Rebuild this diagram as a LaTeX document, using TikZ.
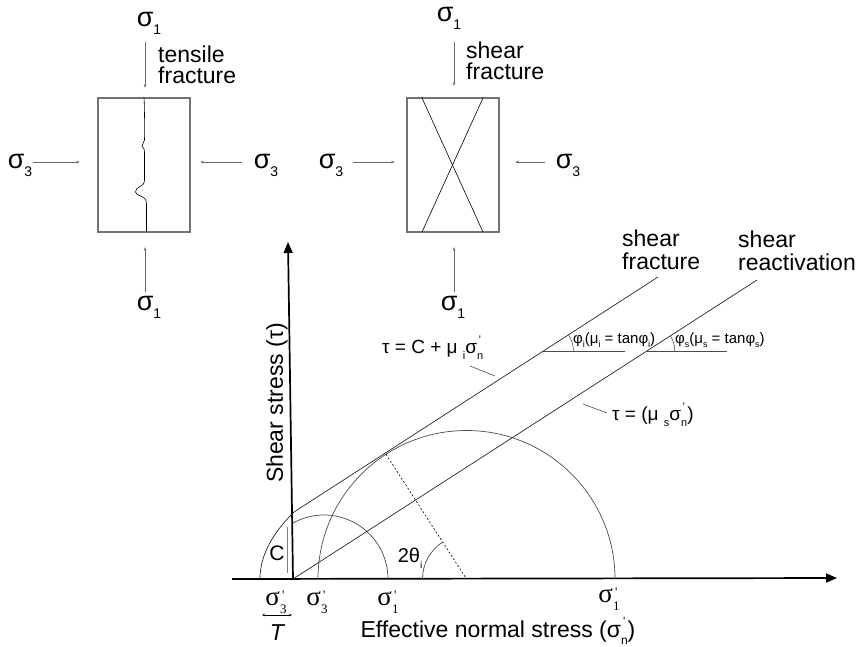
\documentclass[tikz,border=0pt]{standalone}
\usepackage{fontspec}
\setmainfont{Liberation Sans}
\newfontfamily\tms{Liberation Serif}
\usetikzlibrary{arrows.meta,calc}
\newcommand\lowr[2]{\raisebox{-0.3em}{\fontsize{#1}{#1}\selectfont #2}}
\newcommand\prmr[3]{\rlap{\smash{\raisebox{#3}{\fontsize{#1}{#1}\selectfont\,\textquotesingle}}}\smash{\raisebox{-0.3em}{\fontsize{#1}{#1}\selectfont #2}}}
\newcommand\prm[2]{\prmr{#1}{#2}{0.55em}}
\begin{document}
\begin{tikzpicture}[x=1pt,y=-1pt,
  lbl/.style={inner sep=0pt, font=\fontsize{23}{21}\selectfont},
  sg/.style={inner sep=0pt, font=\fontsize{27}{27}\selectfont},
  tm/.style={inner sep=0pt, font=\tms\fontsize{27}{27}\selectfont},
  eq/.style={inner sep=0pt, font=\fontsize{19}{19}\selectfont},
  eqs/.style={inner sep=0pt, font=\fontsize{15}{15}\selectfont},
  sample/.style={draw=black!55, line width=1.1pt, inner sep=0pt, minimum width=92pt, minimum height=134pt},
  load/.style={draw=black!60, line width=0.6pt, -{Stealth[length=4pt,width=2.5pt]}},
  axis/.style={line width=1.7pt, -{Triangle[length=11pt,width=9pt]}},
  env/.style={line width=0.7pt, draw=black!85},
  circ/.style={line width=0.7pt, draw=black!70},
  lead/.style={line width=0.6pt, draw=black!70},
]
\useasboundingbox (0,0) rectangle (861,646);

% ---------- sample 1: tensile fracture ----------
\node[sample] (b1) at (144,165) {};
\draw[line width=0.6pt] (b1.north) .. controls (145,115) and (144,125) .. (144.5,140)
  .. controls (144.5,143) and (141.5,144) .. (142,146)
  .. controls (142.5,148) and (144.5,148) .. (144.5,152) -- (144.5,180)
  .. controls (144.5,188) and (135,186) .. (135.5,192)
  .. controls (136,197) and (146.5,194) .. (146.5,204) -- (146.5,232);
\node[sg] (s1a) at (149,23) {σ\lowr{14}{1}};
\coordinate (t1a) at (145,42); \coordinate (t1b) at (145,88);
\draw[load] (t1a) -- (t1b);
\node[lbl, anchor=west, align=left] (tf) at (158,65) {tensile\\fracture};
\coordinate (u1a) at (145,292); \coordinate (u1b) at (145,247);
\draw[load] (u1a) -- (u1b);
\node[sg] (s1b) at (149,307) {σ\lowr{14}{1}};
\node[sg] (s3a) at (20,165) {σ\lowr{14}{3}};
\coordinate (l1a) at (33,162); \coordinate (l1b) at (80,162);
\draw[load] (l1a) -- (l1b);
\coordinate (r1a) at (242,162); \coordinate (r1b) at (200,162);
\draw[load] (r1a) -- (r1b);
\node[sg] (s3b) at (266,165) {σ\lowr{14}{3}};

% ---------- sample 2: shear fracture ----------
\node[sample] (b2) at (453,165) {};
\draw[line width=0.6pt] (422,98) -- (483,232);
\draw[line width=0.6pt] (483,98) -- (422,232);
\node[sg] (s1c) at (449,18) {σ\lowr{14}{1}};
\coordinate (t2a) at (454,42); \coordinate (t2b) at (454,86);
\draw[load] (t2a) -- (t2b);
\node[lbl, anchor=west, align=left] (sf) at (466,61) {shear\\fracture};
\coordinate (u2a) at (454,292); \coordinate (u2b) at (454,247);
\draw[load] (u2a) -- (u2b);
\node[sg] (s1d) at (453,307) {σ\lowr{14}{1}};
\node[sg] (s3c) at (331,165) {σ\lowr{14}{3}};
\coordinate (l2a) at (353,162); \coordinate (l2b) at (395,162);
\draw[load] (l2a) -- (l2b);
\coordinate (r2a) at (545,162); \coordinate (r2b) at (515,162);
\draw[load] (r2a) -- (r2b);
\node[sg] (s3d) at (568,165) {σ\lowr{14}{3}};

% ---------- Mohr diagram ----------
\coordinate (O) at (293,579);
\coordinate (xstart) at (232,579);
\coordinate (xend) at (837,578);
\coordinate (yend) at (288,242);
\draw[axis] (xstart) -- (xend);
\draw[axis] (O) -- (yend);

% circles
\coordinate (c1) at (324,579);
\draw[circ] ($(c1)+(241:64)$) arc[start angle=241, end angle=360, radius=64];
\coordinate (c2) at (466.5,579);
\draw[circ] ($(c2)+(180:148.5)$) arc[start angle=180, end angle=360, radius=148.5];
\coordinate (tp) at ($(c2)+(237.15:148.5)$);
\draw[line width=0.6pt, dash pattern=on 2pt off 2pt] (tp) -- (c2);
\draw[circ] ($(c2)+(180:44)$) arc[start angle=180, end angle=237.15, radius=44];
\node[eq, font=\fontsize{20}{20}\selectfont] (th) at (410,558) {2θ\lowr{10}{i}};

% envelopes
\draw[env] plot[domain=0:67, samples=50, smooth] ({293 + \x*\x/132 - 33}, {579-\x});
\coordinate (e1a) at (294,512); \coordinate (e1b) at (658,277);
\draw[env] (e1a) -- (e1b);
\coordinate (e2b) at (757,280);
\draw[env] (O) -- (e2b);

% friction angles
\coordinate (v1) at (543.4,351); \coordinate (h1) at (625,351);
\draw[lead] (v1) -- (h1);
\draw[lead] ($(v1)+(0:30)$) arc[start angle=0, end angle=-32.85, radius=30];
\coordinate (v2) at (646.8,351); \coordinate (h2) at (727,351);
\draw[lead] (v2) -- (h2);
\draw[lead] ($(v2)+(0:28)$) arc[start angle=0, end angle=-32.85, radius=28];
\node[eqs, anchor=west] (fi) at (573,340) {φ\lowr{9}{i}(μ\lowr{9}{i} = tanφ\lowr{9}{i})};
\node[eqs, anchor=west] (fs) at (675,340) {φ\lowr{9}{s}(μ\lowr{9}{s} = tanφ\lowr{9}{s})};

% equations
\node[eq, anchor=west] (eq1) at (382,350) {τ = C + μ \lowr{11}{i}σ\prm{11}{n}};
\coordinate (q1a) at (470,366); \coordinate (q1b) at (495,376);
\draw[lead] (q1a) -- (q1b);
\node[eq, anchor=west] (eq2) at (612,417) {τ = (μ \lowr{11}{s}σ\prm{11}{n})};
\coordinate (q2a) at (583,404); \coordinate (q2b) at (607,413);
\draw[lead] (q2a) -- (q2b);

% envelope names
\node[lbl, anchor=west, align=left, font=\fontsize{23}{23}\selectfont] (nsf) at (622,250) {shear\\fracture};
\node[lbl, anchor=west, align=left, font=\fontsize{23}{23}\selectfont] (nsr) at (738,251) {shear\\reactivation};

% axis labels
\node[lbl, rotate=90] (ylab) at (277,403) {Shear stress (τ)};
\node[lbl] (xlab) at (498,632) {Effective normal stress (σ\prm{12}{n})};

% C
\node[lbl, font=\fontsize{21}{21}\selectfont] (cl) at (277,553) {C};
\coordinate (cb1) at (287,527); \coordinate (cb2) at (287,573);
\draw[draw=black!50, line width=0.8pt] (cb1) -- (cb2);

% stress labels on axis
\node[tm] (a1) at (276,599) {σ\prmr{13}{3}{6pt}};
\coordinate (ta) at (262,615); \coordinate (tb) at (292,615);
\draw[line width=0.5pt, {Stealth[length=3pt,width=2.5pt]}-{Stealth[length=3pt,width=2.5pt]}] (ta) -- (tb);
\node[lbl, font=\itshape\fontsize{23}{23}\selectfont] (tl) at (277,633) {T};
\node[tm] (a2) at (317,599) {σ\prmr{13}{3}{6pt}};
\node[tm] (a3) at (388,599) {σ\prmr{13}{1}{6pt}};
\node[tm] (a4) at (609,596) {σ\prmr{13}{1}{6pt}};
\end{tikzpicture}
\end{document}
